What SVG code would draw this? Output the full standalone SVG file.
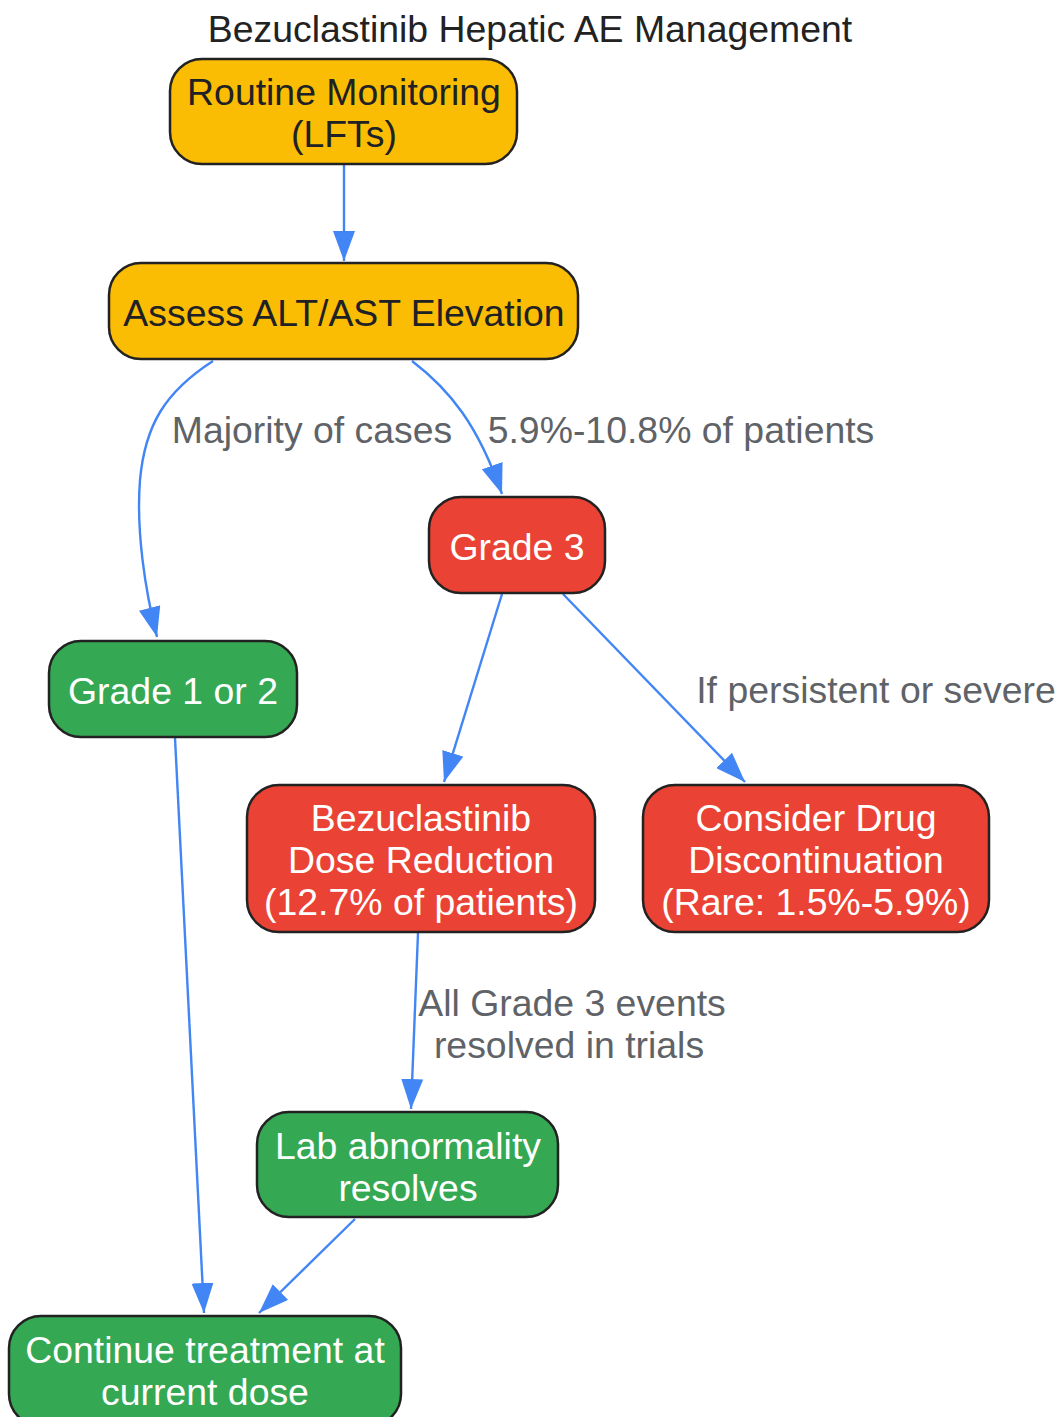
<svg xmlns="http://www.w3.org/2000/svg" width="1059" height="1417" viewBox="0 0 1059 1417">
<style>
  text { font-family: "Liberation Sans", Arial, sans-serif; font-size: 37.4px; text-anchor: middle; }
  .title { fill: #222; }
  .node rect { stroke: #222; stroke-width: 2.5; }
  .yellow rect { fill: #FBBC04; }
  .yellow text { fill: #202124; }
  .red rect { fill: #EA4335; }
  .green rect { fill: #34A853; }
  .red text, .green text { fill: #ffffff; }
  .edge { fill: none; stroke: #4285F4; stroke-width: 2.4; }
  .elabel { fill: #5f6368; }
</style>
<defs>
  <marker id="arrow" viewBox="0 0 30 22" refX="30" refY="11" markerWidth="30" markerHeight="22" markerUnits="userSpaceOnUse" orient="auto">
    <path d="M0,0 L30,11 L0,22 z" fill="#4285F4"/>
  </marker>
</defs>
<rect width="1059" height="1417" fill="#ffffff"/>
<text class="title" x="530" y="42">Bezuclastinib Hepatic AE Management</text>

<g id="connectors">
  <path class="edge" d="M344,165 L344,261" marker-end="url(#arrow)"/>
  <path class="edge" d="M213,361 C165,392 145,425 140,480 C136,530 145,590 157,637" marker-end="url(#arrow)"/>
  <path class="edge" d="M412,361 C450,390 478,425 502,494" marker-end="url(#arrow)"/>
  <path class="edge" d="M502,594 L444,782" marker-end="url(#arrow)"/>
  <path class="edge" d="M563,594 L745,782" marker-end="url(#arrow)"/>
  <path class="edge" d="M175,738 L204,1313" marker-end="url(#arrow)"/>
  <path class="edge" d="M418,933 L411,1109" marker-end="url(#arrow)"/>
  <path class="edge" d="M355,1219 L259,1313" marker-end="url(#arrow)"/>
  <text class="elabel" x="312" y="443">Majority of cases</text>
  <text class="elabel" x="681" y="443">5.9%-10.8% of patients</text>
  <text class="elabel" x="876" y="703">If persistent or severe</text>
  <text class="elabel" x="572" y="1016">All Grade 3 events</text>
  <text class="elabel" x="569" y="1058">resolved in trials</text>
</g>

<g id="routine" class="node yellow">
  <rect x="170" y="59" width="347" height="105" rx="32" ry="32"/>
  <text x="344" y="105">Routine Monitoring</text>
  <text x="344" y="147">(LFTs)</text>
</g>
<g id="assess" class="node yellow">
  <rect x="109" y="263" width="469" height="96" rx="32" ry="32"/>
  <text x="344" y="326">Assess ALT/AST Elevation</text>
</g>
<g id="grade3" class="node red">
  <rect x="429" y="497" width="176" height="96" rx="32" ry="32"/>
  <text x="517" y="560">Grade 3</text>
</g>
<g id="grade12" class="node green">
  <rect x="49" y="641" width="248" height="96" rx="32" ry="32"/>
  <text x="173" y="704">Grade 1 or 2</text>
</g>
<g id="dosereduction" class="node red">
  <rect x="247" y="785" width="348" height="147" rx="32" ry="32"/>
  <text x="421" y="831">Bezuclastinib</text>
  <text x="421" y="873">Dose Reduction</text>
  <text x="421" y="915">(12.7% of patients)</text>
</g>
<g id="discontinuation" class="node red">
  <rect x="643" y="785" width="346" height="147" rx="32" ry="32"/>
  <text x="816" y="831">Consider Drug</text>
  <text x="816" y="873">Discontinuation</text>
  <text x="816" y="915">(Rare: 1.5%-5.9%)</text>
</g>
<g id="labresolves" class="node green">
  <rect x="257" y="1112" width="301" height="105" rx="32" ry="32"/>
  <text x="408" y="1159">Lab abnormality</text>
  <text x="408" y="1201">resolves</text>
</g>
<g id="continue" class="node green">
  <rect x="9" y="1316" width="392" height="110" rx="32" ry="32"/>
  <text x="205" y="1363">Continue treatment at</text>
  <text x="205" y="1405">current dose</text>
</g>
</svg>
